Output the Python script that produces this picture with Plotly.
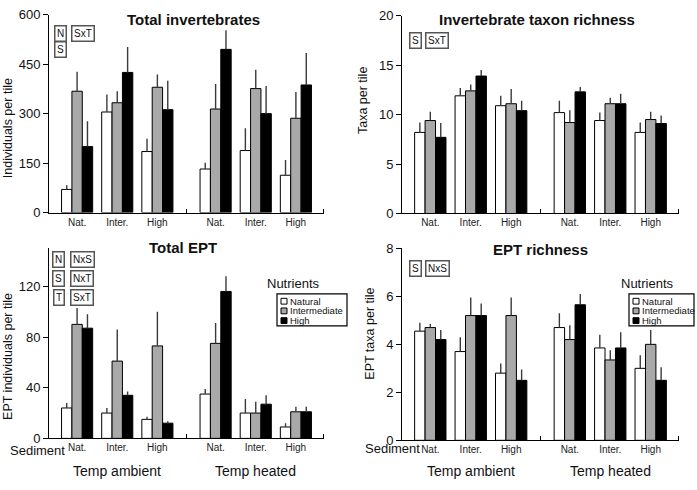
import plotly.graph_objects as go

W, H = 697, 490

# ---------------- data ----------------
sediment_labels = ["Nat.", "Inter.", "High", "Nat.", "Inter.", "High"]
temp_labels = ["Temp ambient", "Temp heated"]
nutrient_names = ["Natural", "Intermediate", "High"]

# Total invertebrates (individuals per tile): mean and SE (upper bar)
inv_natural = [70, 305, 185, 132, 188, 113]
inv_natural_se = [13, 53, 39, 19, 68, 46]
inv_inter = [368, 333, 380, 314, 376, 286]
inv_inter_se = [59, 35, 39, 76, 57, 80]
inv_high = [200, 425, 312, 495, 300, 387]
inv_high_se = [77, 77, 88, 58, 84, 97]

# Invertebrate taxon richness (taxa per tile)
rich_natural = [8.2, 11.9, 10.9, 10.2, 9.4, 8.2]
rich_natural_se = [1.0, 0.8, 1.0, 1.2, 0.8, 1.0]
rich_inter = [9.4, 12.4, 11.1, 9.2, 11.1, 9.5]
rich_inter_se = [0.9, 0.65, 1.5, 1.25, 0.6, 0.8]
rich_high = [7.7, 13.9, 10.4, 12.3, 11.1, 9.1]
rich_high_se = [1.45, 0.6, 1.0, 0.5, 1.0, 0.8]

# Total EPT (EPT individuals per tile)
ept_natural = [24, 20, 15, 35, 20, 9]
ept_natural_se = [4, 4, 2, 4, 11, 3]
ept_inter = [90, 61, 73, 75, 20, 21]
ept_inter_se = [13, 25, 27, 16, 9, 4]
ept_high = [87, 34, 12, 116, 27, 21]
ept_high_se = [11, 3, 1.5, 12, 7, 4]

# EPT richness (EPT taxa per tile)
eptr_natural = [4.55, 3.7, 2.8, 4.7, 3.85, 3.0]
eptr_natural_se = [0.35, 0.6, 0.4, 0.6, 0.55, 0.55]
eptr_inter = [4.7, 5.2, 5.2, 4.2, 3.35, 4.0]
eptr_inter_se = [0.15, 0.75, 0.75, 0.6, 0.4, 0.6]
eptr_high = [4.2, 5.2, 2.5, 5.65, 3.85, 2.5]
eptr_high_se = [0.4, 0.5, 0.45, 0.45, 0.65, 0.55]

# ---------------- styling ----------------
FONT = "Liberation Sans, Arial, Helvetica, sans-serif"
fills = ["#ffffff", "#a9a9a9", "#000000"]
GAP = 0.45  # extra space between temperature blocks (axis units)
xpos = [i + (GAP if i >= 3 else 0) for i in range(len(sediment_labels))]
sep = (xpos[2] + xpos[3]) / 2
xrange_ = [-0.7, xpos[-1] + 0.7]


def px(x):
    return x / W


def py(y):
    return 1 - y / H


def note(text, x, y, size, xanchor="center", **kw):
    d = dict(text=text, x=px(x), y=py(y), xref="paper", yref="paper", showarrow=False,
             xanchor=xanchor, yanchor="middle", font=dict(family=FONT, size=size, color="#111"))
    d.update(kw)
    return d


panels = [
    dict(k="", dom_x=(49, 324), dom_y=(8, 212), yr=[0, 600], yt=[0, 150, 300, 450, 600],
         series=[(inv_natural, inv_natural_se), (inv_inter, inv_inter_se), (inv_high, inv_high_se)],
         title="Total invertebrates", title_xy=(193, 13),
         ytitle="Individuals per tile", ytitle_xy=(8, 125),
         boxes=[("N", 60.5, 27.5), ("S", 60.5, 43.5), ("SxT", 83, 27.5)], legend=None, bottom=False),
    dict(k="2", dom_x=(402, 679), dom_y=(9, 213), yr=[0, 20], yt=[0, 5, 10, 15, 20],
         series=[(rich_natural, rich_natural_se), (rich_inter, rich_inter_se), (rich_high, rich_high_se)],
         title="Invertebrate taxon richness", title_xy=(537, 13),
         ytitle="Taxa per tile", ytitle_xy=(363, 96),
         boxes=[("S", 415, 34.5), ("SxT", 436.5, 34.5)], legend=None, bottom=False),
    dict(k="3", dom_x=(49, 324), dom_y=(249, 445), yr=[0, 150], yt=[0, 40, 80, 120],
         series=[(ept_natural, ept_natural_se), (ept_inter, ept_inter_se), (ept_high, ept_high_se)],
         title="Total EPT", title_xy=(183, 248),
         ytitle="EPT individuals per tile", ytitle_xy=(8, 361),
         boxes=[("N", 58.5, 260.5), ("S", 58.5, 280.5), ("T", 58.5, 299.5),
                ("NxS", 82, 260.5), ("NxT", 82, 280.5), ("SxT", 82, 299.5)],
         legend=(277, 347, 293), bottom=True, sed_xy=(37, 457)),
    dict(k="4", dom_x=(402, 679), dom_y=(249, 447), yr=[0, 8], yt=[0, 2, 4, 6, 8],
         series=[(eptr_natural, eptr_natural_se), (eptr_inter, eptr_inter_se), (eptr_high, eptr_high_se)],
         title="EPT richness", title_xy=(540, 250),
         ytitle="EPT taxa per tile", ytitle_xy=(370, 337),
         boxes=[("S", 415, 269.5), ("NxS", 437.5, 269.5)],
         legend=(629, 694, 647), bottom=True, sed_xy=(392, 455)),
]

fig = go.Figure()
annotations = []
shapes = []
layout_axes = {}

for p in panels:
    k = p["k"]
    xa, ya = "x" + k, "y" + k
    for (vals, se), name, col in zip(p["series"], nutrient_names, fills):
        fig.add_trace(go.Bar(
            x=xpos, y=vals, name=name, xaxis=xa, yaxis=ya, showlegend=False,
            marker=dict(color=col, line=dict(color="#000000", width=1)),
            error_y=dict(type="data", symmetric=False, array=se, arrayminus=[0] * len(se),
                         width=0, thickness=1.4, color="#3a3a3a"),
        ))
    x0, x1 = p["dom_x"]
    y0, y1 = p["dom_y"]
    layout_axes["xaxis" + k] = dict(
        domain=[px(x0), px(x1)], anchor=ya, range=xrange_,
        tickmode="array", tickvals=xpos, ticktext=sediment_labels,
        ticks="", showline=True, linecolor="#000", linewidth=1,
        showgrid=False, zeroline=False, fixedrange=True,
        tickfont=dict(family=FONT, size=10, color="#222"),
        minor=dict(tickmode="array", tickvals=[sep, xrange_[1] - 0.01], ticks="inside",
                   ticklen=4, tickcolor="#000", tickwidth=1, showgrid=False),
    )
    layout_axes["yaxis" + k] = dict(
        domain=[py(y1), py(y0)], anchor=xa, range=p["yr"],
        tickmode="array", tickvals=p["yt"], ticks="outside", ticklen=5,
        tickcolor="#000", tickwidth=1, showline=True, linecolor="#000", linewidth=1,
        showgrid=False, zeroline=False, fixedrange=True,
        tickfont=dict(family=FONT, size=13, color="#111"),
    )
    annotations.append(note("<b>%s</b>" % p["title"], *p["title_xy"], 15))
    annotations.append(note(p["ytitle"], *p["ytitle_xy"], 12.5, textangle=-90))
    for txt, bx, by in p["boxes"]:
        annotations.append(note(txt, bx, by, 10, bordercolor="#555", borderwidth=1.5,
                                borderpad=1.5, bgcolor="#fff"))
    if p["bottom"]:
        for i, t in enumerate(temp_labels):
            cx = (xpos[3 * i] + xpos[3 * i + 2]) / 2
            annotations.append(dict(text=t, x=cx, y=py(479), xref=xa, yref="paper",
                                    xanchor="center", yanchor="middle", showarrow=False,
                                    font=dict(family=FONT, size=14, color="#111")))
        annotations.append(note("Sediment", *p["sed_xy"], 13))
    if p["legend"]:
        lx0, lx1, ncx = p["legend"]
        annotations.append(note("Nutrients", ncx, 285.5, 13))
        shapes.append(dict(type="rect", xref="paper", yref="paper", x0=px(lx0), x1=px(lx1),
                           y0=py(329), y1=py(296), line=dict(color="#000", width=1.2)))
        for j, (name, col) in enumerate(zip(nutrient_names, fills)):
            cy = 303.5 + 10 * j
            shapes.append(dict(type="rect", xref="paper", yref="paper",
                               x0=px(lx0 + 4), x1=px(lx0 + 10), y0=py(cy + 3), y1=py(cy - 3),
                               fillcolor=col, line=dict(color="#000", width=1)))
            annotations.append(note(name, lx0 + 10.5, cy, 9.5, xanchor="left"))

fig.update_layout(
    width=W, height=H, margin=dict(l=0, r=0, t=0, b=0),
    paper_bgcolor="#fff", plot_bgcolor="#fff",
    barmode="group", bargap=0.225, bargroupgap=0,
    annotations=annotations, shapes=shapes, showlegend=False,
    font=dict(family=FONT),
    **layout_axes,
)

fig.write_html("out.html", config={"displayModeBar": False},
               post_script="document.body.style.margin='0px';")
